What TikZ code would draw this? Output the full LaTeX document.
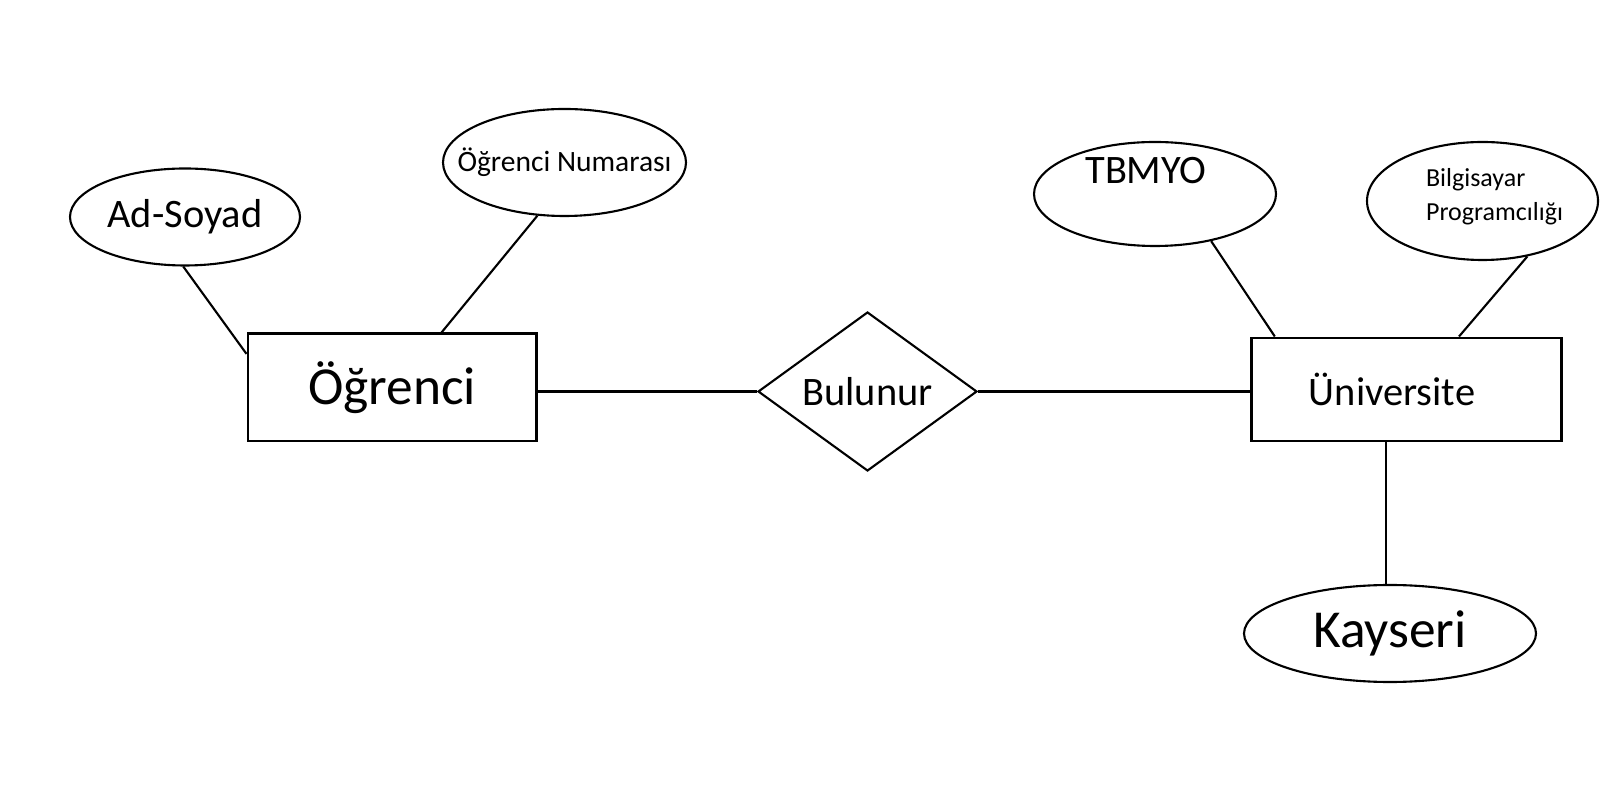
\documentclass[tikz,border=0pt]{standalone}
\usepackage{fontspec}
\setmainfont{Carlito}
\usetikzlibrary{shapes.geometric}

\begin{document}
\begin{tikzpicture}[
		entity/.style={draw, rectangle, line width=0.85pt, inner sep=0pt},
		relation/.style={draw, diamond, line width=0.6pt, inner sep=1pt, aspect=1.38},
		attribute/.style={draw, ellipse, line width=0.6pt, inner sep=0pt},
		link/.style={line width=0.6pt},
		big/.style={font=\fontsize{15.2}{18}\selectfont},
		mid/.style={font=\fontsize{11.5}{14}\selectfont},
		small/.style={font=\fontsize{8.4}{10}\selectfont}]
		\useasboundingbox (0, 0) rectangle (16, 7.94);
		
		% entities and relation
		\node[entity, big, minimum width=2.88cm, minimum height=1.07cm] (ogrenci) at (3.92, 4.065) {Öğrenci};
		\node[relation, mid, minimum width=2.19cm, minimum height=1.59cm] (bulunur) at (8.675, 4.025) {Bulunur};
		\node[entity, minimum width=3.10cm, minimum height=1.03cm,
			label={[mid, xshift=-0.14cm]center:Üniversite}] (universite) at (14.06, 4.045) {};
		
		% attributes
		\node[attribute, mid, minimum width=2.30cm, minimum height=0.97cm] (adsoyad) at (1.85, 5.77) {Ad-Soyad};
		\node[attribute, small, inner xsep=-8pt, minimum width=2.43cm, minimum height=1.07cm] (numara) at (5.645, 6.315) {Öğrenci Numarası};
		\node[attribute, minimum width=2.42cm, minimum height=1.04cm,
			label={[mid, xshift=-0.09cm, yshift=0.235cm]center:TBMYO}] (tbmyo) at (11.55, 6.00) {};
		\node[attribute, minimum width=2.31cm, minimum height=1.18cm,
			label={[font=\fontsize{7.4}{9.6}\selectfont, align=left, xshift=0.12cm, yshift=0.04cm]center:Bilgisayar\\Programcılığı}] (bilgisayar) at (14.825, 5.93) {};
		\node[attribute, big, minimum width=2.92cm, minimum height=0.97cm] (kayseri) at (13.90, 1.605) {Kayseri};
		
		% connections
		\draw[link] (adsoyad.268) -- (ogrenci.167);
		\draw[link] (numara.243) -- (ogrenci.48.7);
		\draw[link] (bulunur.west -| ogrenci.east) -- (bulunur.west);
		\draw[link] (bulunur.east) -- (bulunur.east -| universite.west);
		\draw[link] (tbmyo.320) -- (universite.158);
		\draw[link] (bilgisayar.309) -- (universite.45.3);
		\draw[link] (kayseri.95 |- universite.south) -- (kayseri.95);
		
	\end{tikzpicture}
\end{document}
